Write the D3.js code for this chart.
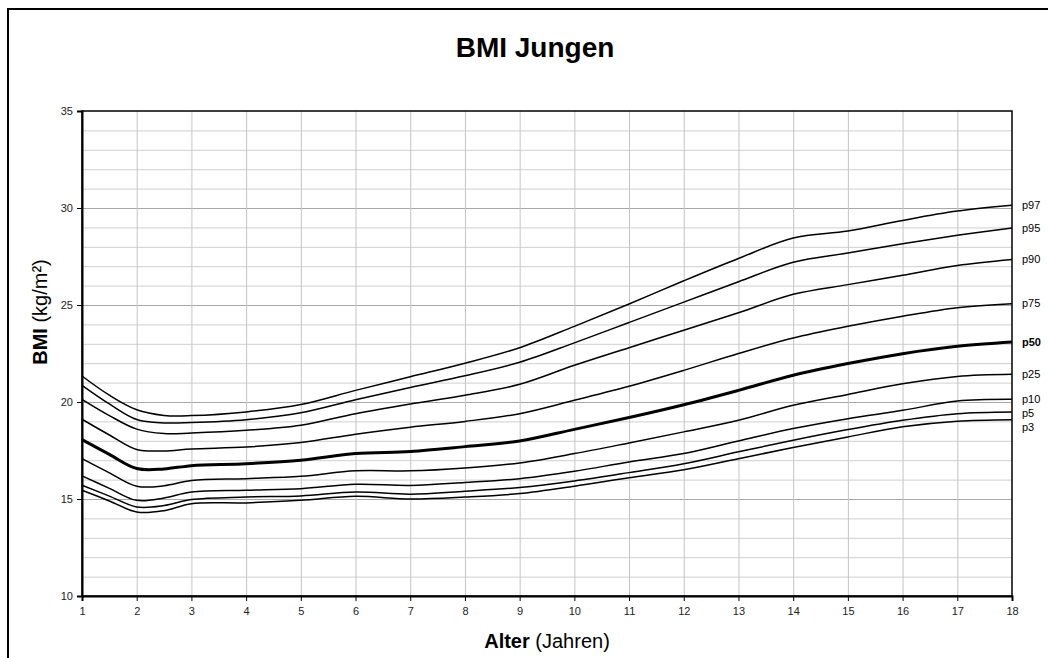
<!DOCTYPE html>
<html>
<head>
<meta charset="utf-8">
<script src="https://cdn.jsdelivr.net/npm/d3@7"></script>
<style>
  body { margin: 0; background: #fff; }
  svg { font-family: "Liberation Sans", Arial, sans-serif; }
</style>
</head>
<body>
<div id="chart"></div>
<script>
// ages (years) and percentile values (BMI kg/m²)
const ages = [1, 1.5, 2, 2.5, 3, 4, 5, 6, 7, 8, 9, 10, 11, 12, 13, 14, 15, 16, 17, 18];

const p97 = [21.34, 20.35, 19.6, 19.31, 19.3, 19.49, 19.87, 20.6, 21.3, 22.0, 22.8, 23.9, 25.05, 26.25, 27.4, 28.45, 28.81, 29.36, 29.84, 30.14];
const p95 = [20.86, 19.9, 19.1, 18.92, 18.94, 19.09, 19.45, 20.12, 20.75, 21.35, 22.05, 23.05, 24.1, 25.15, 26.2, 27.2, 27.68, 28.16, 28.59, 28.97];
const p90 = [20.14, 19.3, 18.6, 18.37, 18.4, 18.54, 18.8, 19.4, 19.9, 20.35, 20.91, 21.89, 22.8, 23.7, 24.6, 25.55, 26.05, 26.53, 27.04, 27.35];
const p75 = [19.11, 18.3, 17.55, 17.48, 17.58, 17.68, 17.91, 18.34, 18.7, 19.0, 19.4, 20.09, 20.81, 21.63, 22.5, 23.3, 23.9, 24.42, 24.86, 25.07];
const p50 = [18.06, 17.3, 16.57, 16.55, 16.72, 16.82, 17.0, 17.34, 17.45, 17.7, 17.99, 18.59, 19.2, 19.86, 20.6, 21.38, 21.98, 22.49, 22.87, 23.09];
const p25 = [17.08, 16.35, 15.66, 15.68, 15.95, 16.05, 16.17, 16.45, 16.45, 16.6, 16.86, 17.34, 17.89, 18.46, 19.06, 19.83, 20.39, 20.94, 21.32, 21.43];
const p10 = [16.19, 15.55, 14.93, 15.05, 15.36, 15.45, 15.53, 15.76, 15.7, 15.85, 16.05, 16.43, 16.91, 17.34, 17.99, 18.63, 19.14, 19.57, 20.05, 20.14];
const p5  = [15.71, 15.15, 14.59, 14.66, 14.97, 15.1, 15.16, 15.36, 15.25, 15.4, 15.59, 15.93, 16.36, 16.82, 17.43, 18.03, 18.58, 19.06, 19.4, 19.49];
const p3  = [15.45, 14.9, 14.33, 14.4, 14.76, 14.8, 14.93, 15.14, 15.0, 15.1, 15.28, 15.66, 16.1, 16.51, 17.08, 17.65, 18.2, 18.72, 19.01, 19.09];

const seriesNames = ["p97", "p95", "p90", "p75", "p50", "p25", "p10", "p5", "p3"];
const seriesValues = [p97, p95, p90, p75, p50, p25, p10, p5, p3];

const xTicks = d3.range(1, 19);
const yTicks = [10, 15, 20, 25, 30, 35];

const width = 1048, height = 658;
const margin = {top: 111, right: 36, bottom: 62, left: 82};
const w = width - margin.left - margin.right;
const h = height - margin.top - margin.bottom;

const xScale = d3.scaleLinear().domain([1, 18]).range([0, w]);
const yScale = d3.scaleLinear().domain([10, 35]).range([h, 0]);

const line = d3.line()
  .x(function(d) { return xScale(d[0]) })
  .y(function(d) { return yScale(d[1]) })
  .curve(d3.curveCatmullRom.alpha(0.5));

const svg = d3.select("#chart").append("svg")
  .attr("width", width)
  .attr("height", height);

// outer chart frame (runs off the picture on the right and bottom)
svg.append("rect")
  .attr("x", 8).attr("y", 9)
  .attr("width", 1200).attr("height", 800)
  .attr("fill", "#fff")
  .attr("stroke", "#000")
  .attr("stroke-width", 2);

svg.append("text")
  .attr("x", 535).attr("y", 57)
  .attr("text-anchor", "middle")
  .attr("font-size", 28)
  .attr("font-weight", "bold")
  .text("BMI Jungen");

const g = svg.append("g")
  .attr("transform", `translate(${margin.left}, ${margin.top})`);

// grid
g.append("g")
  .selectAll("line")
  .data(d3.range(11, 35))
  .join("line")
  .attr("x1", 0).attr("x2", w)
  .attr("y1", d => yScale(d) + 0.5).attr("y2", d => yScale(d) + 0.5)
  .attr("stroke", d => d % 5 === 0 ? "#a8a8a8" : "#cfcfcf")
  .attr("stroke-width", 1);

g.append("g")
  .selectAll("line")
  .data(d3.range(2, 18))
  .join("line")
  .attr("x1", d => xScale(d) + 0.5).attr("x2", d => xScale(d) + 0.5)
  .attr("y1", 0).attr("y2", h)
  .attr("stroke", "#c4c4c4")
  .attr("stroke-width", 1);

// plot frame
g.append("rect")
  .attr("width", w).attr("height", h)
  .attr("fill", "none")
  .attr("stroke", "#000")
  .attr("stroke-width", 1.5);

const leftAxis = d3.axisLeft(yScale).tickValues(yTicks).tickSize(5).tickPadding(4);
const bottomAxis = d3.axisBottom(xScale).tickValues(xTicks).tickSize(5).tickPadding(6);

g.append("g")
  .attr("class", "axis")
  .call(leftAxis)
  .call(a => a.select(".domain").attr("stroke-width", 2));

g.append("g")
  .attr("class", "axis")
  .attr("transform", `translate(0, ${h})`)
  .call(bottomAxis)
  .call(a => a.select(".domain").attr("stroke-width", 2));

svg.selectAll(".axis text")
  .attr("font-size", 11)
  .attr("font-family", "Liberation Sans, Arial, sans-serif")
  .attr("fill", "#222");

// percentile curves
seriesNames.forEach((name, i) => {
  const pts = ages.map((a, j) => [a, seriesValues[i][j]]);
  g.append("path")
    .attr("d", line(pts))
    .attr("fill", "none")
    .attr("stroke", "#000")
    .attr("stroke-width", name === "p50" ? 3 : 1.5);
});

// labels at the right end, pushed apart where they crowd
let lastY = -Infinity;
seriesNames.forEach((name, i) => {
  const vals = seriesValues[i];
  let y = yScale(vals[vals.length - 1]);
  if (y < lastY + 14) y = lastY + 14;
  lastY = y;
  g.append("text")
    .attr("x", w + 10)
    .attr("y", y)
    .attr("dy", "0.35em")
    .attr("font-size", 11)
    .attr("font-weight", name === "p50" ? "bold" : "normal")
    .text(name);
});

// axis titles
const xTitle = svg.append("text")
  .attr("x", 547).attr("y", 648)
  .attr("text-anchor", "middle")
  .attr("font-size", 20);
xTitle.append("tspan").attr("font-weight", "bold").text("Alter");
xTitle.append("tspan").text(" (Jahren)");

const yTitle = svg.append("text")
  .attr("transform", "translate(47, 312) rotate(-90)")
  .attr("text-anchor", "middle")
  .attr("font-size", 20);
yTitle.append("tspan").attr("font-weight", "bold").text("BMI");
yTitle.append("tspan").text(" (kg/m²)");
</script>
</body>
</html>
